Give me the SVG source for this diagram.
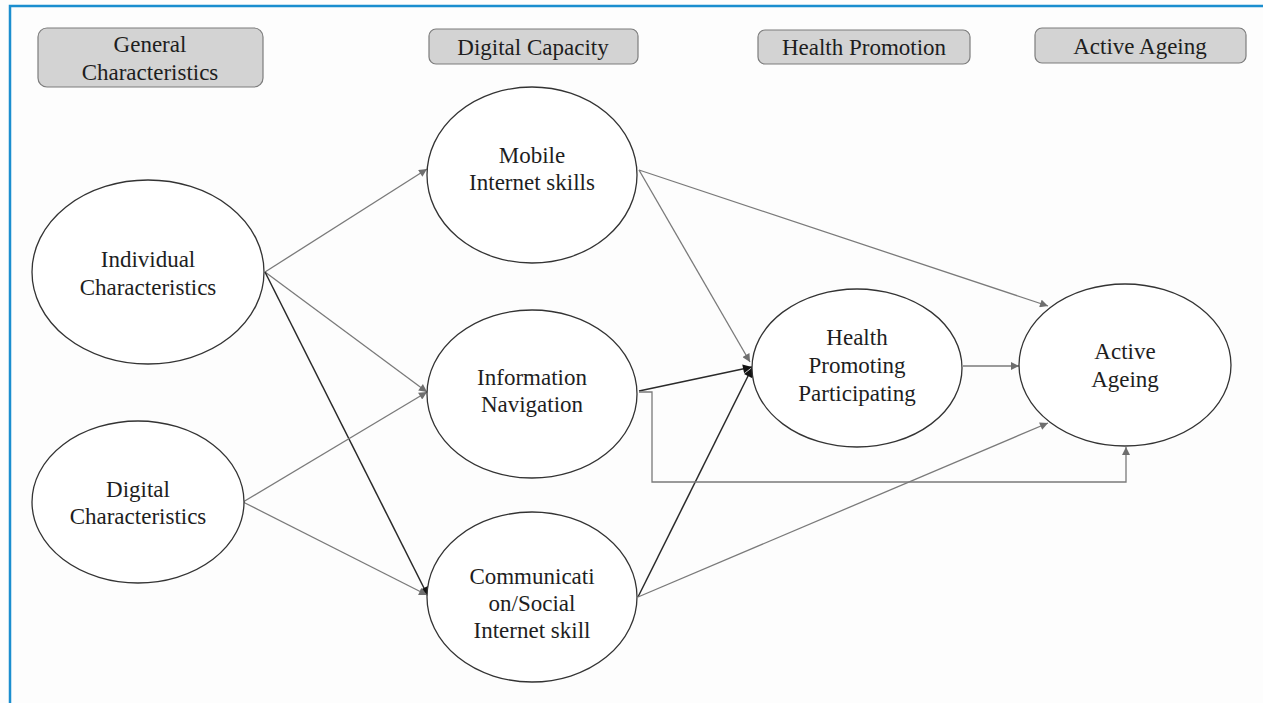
<svg xmlns="http://www.w3.org/2000/svg" width="1263" height="703" viewBox="0 0 1263 703">
  <style>
    text { font-family: 'Liberation Serif', 'Times New Roman', 'DejaVu Serif', serif; font-size: 23px; fill: #1e1e1e; text-anchor: middle; }
    .hdr rect { fill: #d3d3d3; stroke: #7d7d7d; stroke-width: 1.2; }
    .node ellipse { fill: #ffffff; stroke: #333333; stroke-width: 1.3; }
    .gray { fill: none; stroke: #7a7a7a; stroke-width: 1.3; }
    .dark { fill: none; stroke: #2a2a2a; stroke-width: 1.5; }
  </style>
  <defs>
    <marker id="ahGray" viewBox="0 0 10 10" refX="10" refY="5" markerWidth="9" markerHeight="8" markerUnits="userSpaceOnUse" orient="auto">
      <path d="M0,0 L10,5 L0,10 z" fill="#6e6e6e"/>
    </marker>
    <marker id="ahDark" viewBox="0 0 10 10" refX="10" refY="5" markerWidth="10" markerHeight="9" markerUnits="userSpaceOnUse" orient="auto">
      <path d="M0,0 L10,5 L0,10 z" fill="#111111"/>
    </marker>
  </defs>

  <rect width="1263" height="703" fill="#fdfdfd"/>
  <!-- frame -->
  <path d="M10,703 V6 H1263" fill="none" stroke="#1b8ecf" stroke-width="2.5"/>

  <!-- column headers -->
  <g id="hdr-general" class="hdr">
    <rect x="38" y="28" width="225" height="59" rx="9"/>
    <text x="150" y="52">General</text>
    <text x="150" y="80">Characteristics</text>
  </g>
  <g id="hdr-digital" class="hdr">
    <rect x="429" y="29" width="209" height="35" rx="7"/>
    <text x="533" y="55">Digital Capacity</text>
  </g>
  <g id="hdr-health" class="hdr">
    <rect x="758" y="30" width="212" height="34" rx="7"/>
    <text x="864" y="55">Health Promotion</text>
  </g>
  <g id="hdr-active" class="hdr">
    <rect x="1035" y="28" width="211" height="35" rx="7"/>
    <text x="1140" y="54">Active Ageing</text>
  </g>

  <!-- connectors -->
  <g id="connectors">
    <line class="gray" x1="265" y1="272" x2="427" y2="169" marker-end="url(#ahGray)"/>
    <line class="gray" x1="265" y1="272" x2="427" y2="392" marker-end="url(#ahGray)"/>
    <line class="dark" x1="265" y1="272" x2="428" y2="596" marker-end="url(#ahDark)"/>
    <line class="gray" x1="243" y1="502" x2="427" y2="392" marker-end="url(#ahGray)"/>
    <line class="gray" x1="243" y1="502" x2="427" y2="595" marker-end="url(#ahGray)"/>
    <line class="gray" x1="639" y1="170" x2="750" y2="362" marker-end="url(#ahGray)"/>
    <line class="gray" x1="639" y1="170" x2="1048" y2="306" marker-end="url(#ahGray)"/>
    <line class="dark" x1="639" y1="391" x2="752" y2="367" marker-end="url(#ahDark)"/>
    <line class="dark" x1="638" y1="597" x2="752" y2="368" marker-end="url(#ahDark)"/>
    <line class="gray" x1="638" y1="597" x2="1048" y2="423" marker-end="url(#ahGray)"/>
    <path class="gray" d="M639,392 H652 V482 H1126 V447" marker-end="url(#ahGray)"/>
    <line class="gray" x1="963" y1="366" x2="1019" y2="366" marker-end="url(#ahGray)"/>
  </g>

  <!-- nodes -->
  <g id="individual" class="node">
    <ellipse cx="148" cy="272" rx="116" ry="92"/>
    <text x="148" y="267">Individual</text>
    <text x="148" y="295">Characteristics</text>
  </g>
  <g id="digital-char" class="node">
    <ellipse cx="138" cy="502" rx="106" ry="81"/>
    <text x="138" y="497">Digital</text>
    <text x="138" y="524">Characteristics</text>
  </g>
  <g id="mobile" class="node">
    <ellipse cx="532" cy="175" rx="105" ry="88"/>
    <text x="532" y="163">Mobile</text>
    <text x="532" y="190">Internet skills</text>
  </g>
  <g id="information" class="node">
    <ellipse cx="532" cy="394" rx="105" ry="84"/>
    <text x="532" y="385">Information</text>
    <text x="532" y="412">Navigation</text>
  </g>
  <g id="communication" class="node">
    <ellipse cx="532" cy="597" rx="105" ry="85"/>
    <text x="532" y="584">Communicati</text>
    <text x="532" y="611">on/Social</text>
    <text x="532" y="638">Internet skill</text>
  </g>
  <g id="health" class="node">
    <ellipse cx="857" cy="368" rx="105" ry="79"/>
    <text x="857" y="345">Health</text>
    <text x="857" y="373">Promoting</text>
    <text x="857" y="401">Participating</text>
  </g>
  <g id="active" class="node">
    <ellipse cx="1125" cy="365" rx="106" ry="81"/>
    <text x="1125" y="359">Active</text>
    <text x="1125" y="387">Ageing</text>
  </g>
</svg>
